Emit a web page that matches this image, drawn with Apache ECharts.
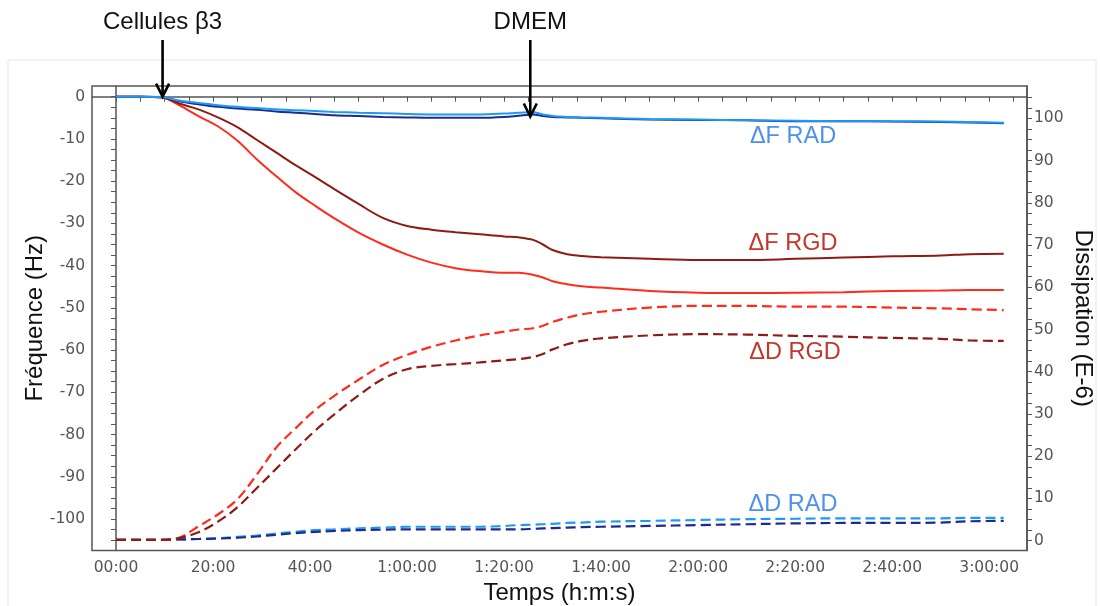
<!DOCTYPE html>
<html><head><meta charset="utf-8">
<script src="https://cdn.jsdelivr.net/npm/echarts@6/dist/echarts.min.js"></script>
<style>html,body{margin:0;padding:0;background:#fff}#c{width:1100px;height:606px}</style>
</head><body><div id="c"></div>
<script>
// time in minutes
const time = [0, 5, 9.5, 13, 17, 21, 25, 29, 33, 37, 41, 45, 50, 55, 60, 65, 70, 75, 80, 83, 86, 88, 90, 93, 96, 100, 110, 120, 130, 140, 150, 160, 170, 176, 183];

// Frequency (Hz), left axis
const fRadLight = [0, 0, -0.1, -0.9, -1.5, -2.0, -2.4, -2.7, -3.0, -3.2, -3.4, -3.6, -3.8, -3.9, -4.1, -4.2, -4.2, -4.2, -4.0, -3.8, -3.7, -4.2, -4.6, -4.8, -4.9, -5.0, -5.3, -5.4, -5.6, -5.7, -5.8, -5.8, -5.9, -6.0, -6.2];
const fRadDark = [0, 0, -0.1, -1.1, -1.8, -2.4, -2.8, -3.1, -3.5, -3.8, -4.1, -4.4, -4.6, -4.8, -4.9, -5.0, -5.0, -5.0, -4.8, -4.5, -4.2, -4.6, -4.8, -4.9, -5.0, -5.1, -5.4, -5.5, -5.6, -5.8, -5.8, -5.9, -6.0, -6.1, -6.3];
const fRgdRed = [0, 0, -0.2, -2.0, -4.6, -7.0, -10.4, -14.8, -18.8, -22.6, -25.8, -28.8, -32.2, -35.0, -37.4, -39.3, -40.6, -41.3, -41.7, -41.7, -42.2, -42.8, -43.7, -44.4, -44.9, -45.2, -46.0, -46.4, -46.5, -46.4, -46.3, -46.0, -45.9, -45.8, -45.8];
const fRgdDark = [0, 0, -0.2, -1.6, -3.0, -4.9, -7.2, -10.2, -13.2, -16.2, -19.0, -21.9, -25.4, -28.7, -30.6, -31.5, -32.1, -32.6, -33.1, -33.3, -33.9, -35.0, -36.3, -37.3, -37.7, -38.0, -38.4, -38.7, -38.7, -38.4, -38.1, -37.8, -37.6, -37.3, -37.2];

// Dissipation (E-6), right axis
const dRgdRed = [0.2, 0.2, 0.2, 0.7, 3.4, 6.2, 9.8, 15.6, 22.0, 26.6, 30.9, 34.3, 38.1, 41.6, 44.0, 45.9, 47.4, 48.6, 49.5, 50.0, 50.3, 50.9, 51.8, 52.8, 53.6, 54.2, 55.2, 55.6, 55.6, 55.4, 55.4, 55.2, 55.0, 54.8, 54.6];
const dRgdDark = [0.2, 0.2, 0.2, 0.6, 2.0, 4.5, 7.9, 12.4, 17.0, 21.6, 26.0, 29.9, 34.4, 38.3, 40.6, 41.4, 41.8, 42.2, 42.7, 43.0, 43.5, 44.2, 45.3, 46.5, 47.3, 47.9, 48.6, 48.9, 48.8, 48.5, 48.3, 48.0, 47.8, 47.4, 47.3];
const dRadLight = [0.2, 0.2, 0.2, 0.3, 0.4, 0.6, 0.9, 1.2, 1.7, 2.1, 2.5, 2.7, 2.9, 3.1, 3.3, 3.3, 3.3, 3.3, 3.5, 3.7, 3.8, 3.9, 4.0, 4.2, 4.3, 4.5, 4.7, 4.9, 5.1, 5.2, 5.3, 5.3, 5.3, 5.4, 5.4];
const dRadDark = [0.2, 0.2, 0.2, 0.3, 0.4, 0.5, 0.7, 1.0, 1.4, 1.8, 2.1, 2.3, 2.5, 2.6, 2.7, 2.7, 2.7, 2.7, 2.7, 2.7, 2.8, 2.9, 3.0, 3.1, 3.2, 3.3, 3.5, 3.7, 3.9, 4.1, 4.2, 4.2, 4.3, 4.6, 4.7];

// Tick labels
const xTickValues = [0, 20, 40, 60, 80, 100, 120, 140, 160, 180];
const xTickLabels = ['00:00', '20:00', '40:00', '1:00:00', '1:20:00', '1:40:00', '2:00:00', '2:20:00', '2:40:00', '3:00:00'];
const freqTicks = [-100, -90, -80, -70, -60, -50, -40, -30, -20, -10, 0];
const dissTicks = [0, 10, 20, 30, 40, 50, 60, 70, 80, 90, 100];

// Annotations
const eventNames = ['Cellules β3', 'DMEM'];
const eventTimes = [9.6, 85.4];
const eventTips = [0, -4.7];
const seriesLabels = ['ΔF RAD', 'ΔF RGD', 'ΔD RGD', 'ΔD RAD'];

const minorX = []; for (let v = 0; v <= 185; v += 5) minorX.push(v);
const minorF = []; for (let v = -105; v <= 0; v += 2.5) minorF.push(v);
const minorD = []; for (let v = 0; v <= 105; v += 2.5) minorD.push(v);

const chart = echarts.init(document.getElementById('c'), null, {renderer: 'canvas'});
const pairs = arr => time.map((t, i) => [t, arr[i]]);
function mk(name, arr, yi, color, dashed) {
  return {
    name, type: 'line', yAxisIndex: yi, data: pairs(arr), showSymbol: false, symbol: 'none',
    smooth: 0.35, animation: false,
    lineStyle: {color, width: dashed ? 2.2 : 2, type: dashed ? [10, 5] : 'solid'}
  };
}
const cLight = '#1c9bf5', cNavy = '#1d2a8e', cRed = '#ff2b1c', cDark = '#8e1b14';
const tickFont = {fontFamily: 'DejaVu Sans', fontSize: 15.5, color: '#555'};
const axisLine = {show: true, lineStyle: {color: '#555', width: 1.5}};
const titleFont = {fontFamily: 'Liberation Sans', fontSize: 24, color: '#111'};

chart.setOption({
  animation: false,
  grid: {left: 92, right: 73, top: 86, bottom: 55.5, show: true, borderColor: '#555', borderWidth: 1.5,
    containLabel: false, outerBoundsMode: 'none'},
  xAxis: {
    type: 'value', min: -4.95, max: 187.8,
    name: 'Temps (h:m:s)', nameLocation: 'middle', nameGap: 31, nameTextStyle: titleFont,
    axisLine, splitLine: {show: false},
    axisTick: {show: true, length: 5, customValues: minorX, lineStyle: {color: '#555'}},
    axisLabel: Object.assign({margin: 9, customValues: xTickValues,
      formatter: v => xTickLabels[xTickValues.indexOf(Math.round(v))] || ''}, tickFont)
  },
  yAxis: [{
    type: 'value', min: -107.46, max: 2.53, position: 'left',
    name: 'Fréquence (Hz)', nameLocation: 'middle', nameGap: 45, nameMoveOverlap: false, nameTextStyle: titleFont,
    axisLine, splitLine: {show: false},
    axisTick: {show: true, length: 5, customValues: minorF, lineStyle: {color: '#555'}},
    axisLabel: Object.assign({margin: 7, customValues: freqTicks}, tickFont)
  }, {
    type: 'value', min: -2.32, max: 107.65, position: 'right',
    name: 'Dissipation (E-6)', nameLocation: 'middle', nameGap: 44, nameRotate: -90, nameMoveOverlap: false,
    nameTextStyle: titleFont,
    axisLine, splitLine: {show: false},
    axisTick: {show: true, length: 5, customValues: minorD, lineStyle: {color: '#555'}},
    axisLabel: Object.assign({margin: 7, customValues: dissTicks}, tickFont)
  }],
  series: [
    mk('ΔD RAD light', dRadLight, 1, cLight, true),
    mk('ΔD RAD dark', dRadDark, 1, cNavy, true),
    mk('ΔD RGD red', dRgdRed, 1, cRed, true),
    mk('ΔD RGD dark', dRgdDark, 1, cDark, true),
    mk('ΔF RGD red', fRgdRed, 0, cRed, false),
    mk('ΔF RGD dark', fRgdDark, 0, cDark, false),
    mk('ΔF RAD dark', fRadDark, 0, cNavy, false),
    mk('ΔF RAD light', fRadLight, 0, cLight, false)
  ]
});

const graphics = [{
  type: 'rect', z: -10, silent: true,
  shape: {x: 8, y: 60, width: 1088, height: 560},
  style: {fill: 'none', stroke: '#e6e6e6', lineWidth: 1}
}];
eventNames.forEach((nm, i) => {
  const tip = chart.convertToPixel({xAxisIndex: 0, yAxisIndex: 0}, [eventTimes[i], eventTips[i]]);
  const x = tip[0], yT = tip[1];
  graphics.push({type: 'text', z: 100, style: {text: nm, x: x, y: 22, align: 'center', verticalAlign: 'middle',
    font: '24px "Liberation Sans", Arial, sans-serif', fill: '#111'}});
  graphics.push({type: 'line', z: 100, shape: {x1: x, y1: 40, x2: x, y2: yT - 1}, style: {stroke: '#000', lineWidth: 2.6}});
  graphics.push({type: 'polyline', z: 100, shape: {points: [[x - 6.5, yT - 13], [x, yT], [x + 6.5, yT - 13]]},
    style: {stroke: '#000', lineWidth: 2.6, fill: 'none'}});
});
const labelPos = [[793, 137], [793, 244], [795, 353], [793, 505]];
const labelColors = ['#4f8ff0', '#c0392b', '#c0392b', '#4f8ff0'];
seriesLabels.forEach((s, i) => {
  graphics.push({type: 'text', z: 100, style: {text: s, x: labelPos[i][0], y: labelPos[i][1], align: 'center',
    verticalAlign: 'middle', font: '23.5px "Liberation Sans", Arial, sans-serif', fill: labelColors[i]}});
});
chart.setOption({graphic: graphics});
</script></body></html>
